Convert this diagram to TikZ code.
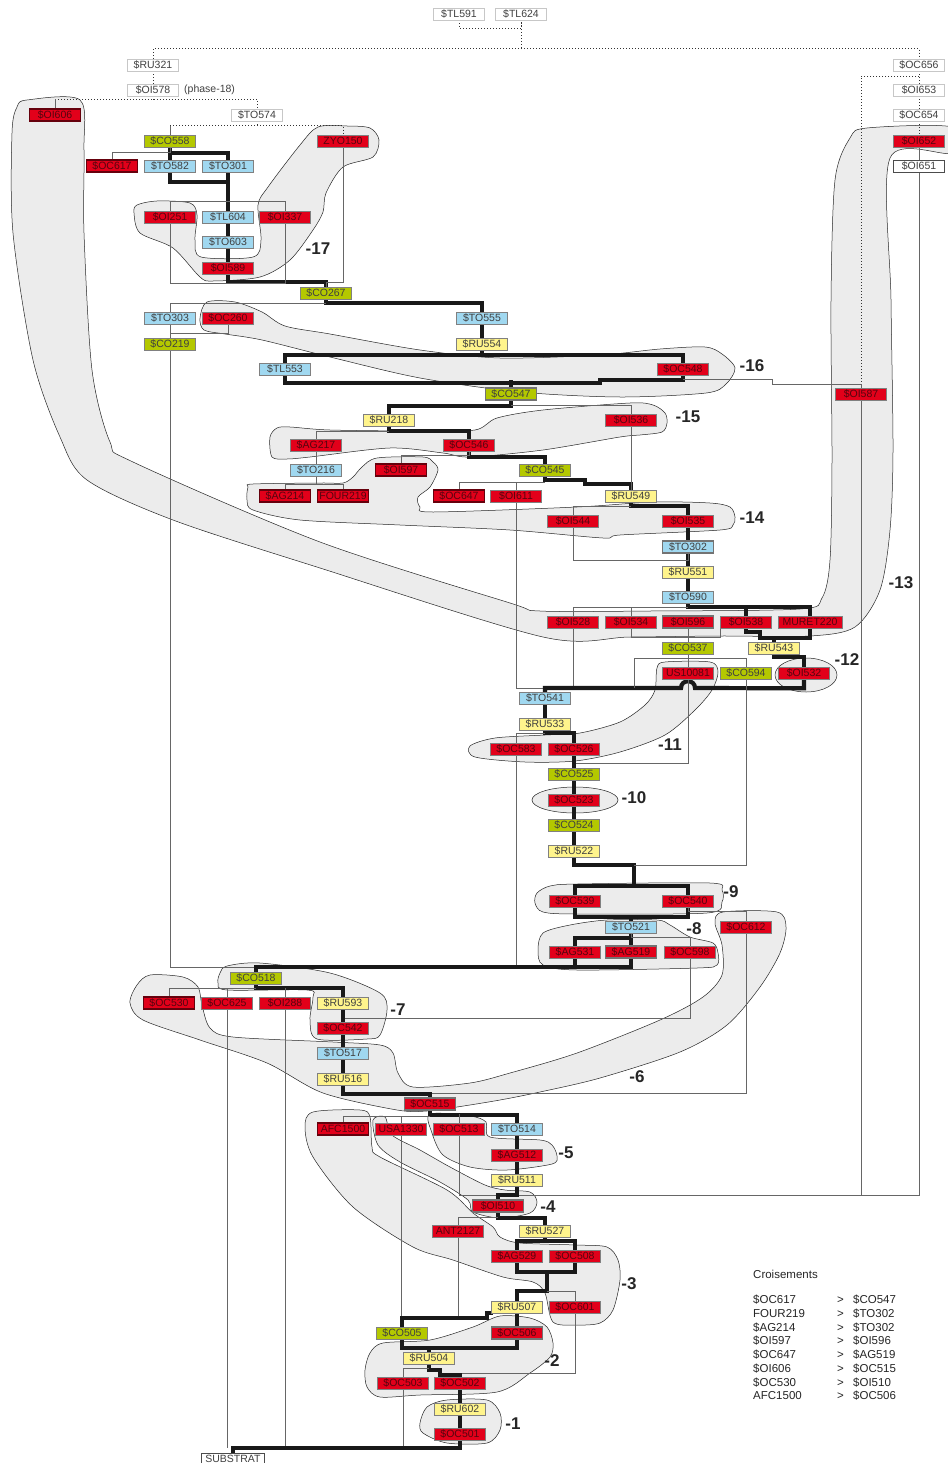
\documentclass[tikz,border=0pt]{standalone}
\usepackage{fontspec}
\setmainfont{Liberation Sans}
\usetikzlibrary{positioning}

\definecolor{usred}{RGB}{226,0,26}
\definecolor{ustxt}{RGB}{85,5,15}
\definecolor{usblue}{RGB}{160,216,240}
\definecolor{usgreen}{RGB}{180,200,0}
\definecolor{usyellow}{RGB}{255,244,140}
\definecolor{hullgrey}{RGB}{236,236,236}

\pgfdeclarelayer{hulls}
\pgfdeclarelayer{links}
\pgfsetlayers{hulls,links,main}

% phase outlines
\newcommand\hullxvii{plot[smooth cycle,tension=0.5] coordinates {(134,213) (137,205) (157,201) (190,203) (197,215) (195,240) (201,257) (253,257) (261,240) (258,205) (268,187) (300,145) (318,127) (347,126) (370,128) (379,140) (373,157) (343,167) (326,193) (323,212) (313,230) (290,260) (260,277) (213,281) (200,277) (173,248) (140,233)}}
\newcommand\hullxvi{plot[smooth cycle,tension=0.5] coordinates {(200,318) (207,302) (235,302) (262,312) (285,326) (330,334) (420,350) (500,358) (600,355) (660,349) (705,347) (722,354) (735,368) (726,384) (706,393) (620,397) (520,392) (420,378) (330,357) (262,340) (225,334) (204,330)}}
\newcommand\hullxv{plot[smooth cycle,tension=0.5] coordinates {(270,437) (277,428) (290,427) (330,430) (420,431) (475,430) (497,418) (543,410) (630,403) (653,405) (665,413) (667,423) (662,432) (640,435) (620,437) (543,450) (470,457) (443,453) (390,448) (310,457) (287,459) (272,457)}}
\newcommand\hullxiv{plot[smooth cycle,tension=0.5] coordinates {(248,487) (253,484) (320,483) (343,483) (353,477) (362,467) (377,458) (423,457) (433,462) (438,470) (430,487) (418,497) (420,507) (433,512) (577,507) (653,502) (710,503) (730,507) (735,517) (733,525) (720,530) (620,535) (603,538) (510,530) (400,525) (300,520) (253,510) (247,500)}}
\newcommand\hullxiii{plot[smooth cycle,tension=0.5] coordinates {(27,100) (80,100) (84,150) (84,233) (92,370) (110,442) (133,462) (320,542) (510,603) (540,611) (650,611) (800,609) (822,598) (830,560) (832,460) (831,300) (835,180) (850,138) (867,128) (952,127) (952,153) (890,158) (891,300) (893,450) (890,530) (880,590) (855,627) (810,636) (720,636) (630,637) (543,637) (320,568) (173,520) (87,480) (60,437) (33,360) (13,233) (12,133) (17,107)}}
\newcommand\hullxii{(806,675) ellipse [x radius=31, y radius=17]}
\newcommand\hullxi{plot[smooth cycle,tension=0.5] coordinates {(657,668) (665,662) (710,662) (718,672) (712,690) (695,710) (665,735) (620,752) (575,761) (525,762) (475,757) (470,746) (495,738) (545,735) (580,733) (620,722) (645,705) (655,690)}}
\newcommand\hullx{(575,800) ellipse [x radius=43, y radius=13]}
\newcommand\hullix{plot[smooth cycle,tension=0.5] coordinates {(537,893) (550,886) (577,884) (710,883) (722,890) (722,902) (707,913) (577,914) (543,912) (535,903)}}
\newcommand\hullviii{plot[smooth cycle,tension=0.5] coordinates {(538,950) (543,933) (570,925) (607,920) (657,920) (670,925) (690,937) (713,943) (718,953) (717,965) (697,968) (577,970) (543,965)}}
\newcommand\hullvii{plot[smooth cycle,tension=0.5] coordinates {(220,973) (227,966) (260,963) (330,973) (380,993) (387,1010) (380,1035) (367,1039) (317,1039) (310,1020) (313,997) (307,990) (227,990) (218,983)}}
\newcommand\hullvi{plot[smooth cycle,tension=0.5] coordinates {(130,1003) (137,985) (150,975) (183,977) (198,987) (202,1005) (210,1028) (233,1037) (333,1042) (380,1045) (393,1053) (398,1073) (413,1087) (470,1083) (510,1073) (577,1053) (660,1020) (703,997) (722,975) (722,945) (715,923) (723,912) (777,912) (786,927) (780,953) (760,987) (727,1025) (680,1052) (600,1078) (540,1092) (500,1100) (457,1107) (427,1111) (397,1110) (323,1093) (267,1063) (200,1040) (143,1020)}}
\newcommand\hullv{plot[smooth cycle,tension=0.5] coordinates {(430,1114) (470,1116) (486,1122) (490,1137) (540,1140) (552,1145) (557,1156) (552,1164) (507,1170) (470,1167) (443,1155) (432,1133)}}
\newcommand\hulliv{plot[smooth cycle,tension=0.5] coordinates {(373,1120) (385,1117) (392,1135) (420,1150) (450,1167) (485,1185) (505,1190) (530,1192) (537,1202) (530,1213) (500,1218) (473,1212) (468,1200) (440,1182) (400,1162) (378,1145)}}
\newcommand\hulliii{plot[smooth cycle,tension=0.5] coordinates {(305,1127) (313,1112) (360,1110) (370,1117) (372,1147) (380,1157) (447,1190) (473,1213) (493,1227) (500,1237) (520,1243) (577,1245) (607,1247) (618,1260) (620,1280) (613,1310) (600,1323) (577,1325) (553,1322) (545,1293) (533,1282) (503,1277) (453,1260) (413,1247) (353,1207) (313,1157)}}
\newcommand\hullii{plot[smooth cycle,tension=0.5] coordinates {(365,1370) (370,1353) (383,1343) (430,1340) (473,1327) (500,1316) (530,1318) (547,1327) (553,1343) (550,1357) (530,1373) (497,1392) (420,1395) (380,1397) (367,1387)}}
\newcommand\hulli{plot[smooth cycle,tension=0.5] coordinates {(420,1423) (427,1407) (447,1400) (487,1400) (500,1413) (500,1430) (487,1443) (447,1443) (423,1433)}}

\begin{document}
\begin{tikzpicture}[
  x=1pt, y=-1pt,
  box/.style={draw=black!50, line width=0.6pt, minimum width=51pt,
              minimum height=12pt, inner sep=0pt,
              font=\fontsize{10.5}{10.5}\selectfont},
  rbox/.style={box, fill=usred, text=ustxt},
  bbox/.style={box, fill=usblue, text=black!75},
  gbox/.style={box, fill=usgreen, text=black!75},
  ybox/.style={box, fill=usyellow, text=black!75},
  wbox/.style={box, fill=white, draw=black!22, text=black!75},
  xleft/.style={draw=black!55!usred, line width=1.5pt},
  xright/.style={draw=black!55, line width=1.5pt},
  phase/.style={font=\fontsize{17}{17}\selectfont\bfseries, text=black!85, inner sep=0pt},
  rel/.style={draw=black!60, line width=0.75pt},
  seq/.style={draw=black!90, line width=4.2pt, line cap=rect},
  dot/.style={draw=black!80, line width=0.9pt, dash pattern=on 0.9pt off 2.1pt},
  hull/.style={fill=hullgrey},
  rim/.style={draw=black!85, line width=0.5pt},
]
\useasboundingbox (0,0) rectangle (947,1463);

% top, unphased
\node[wbox] (tl591) at (459,14) {\$TL591};
\node[wbox] (tl624) at (521,14) {\$TL624};
\node[wbox] (ru321) at (153,65) {\$RU321};
\node[wbox] (oi578) at (153,90) {\$OI578};
\node[anchor=west, inner sep=0pt, text=black!75, font=\fontsize{10.5}{10.5}\selectfont] (ph18) at (184,90) {(phase-18)};
\node[wbox] (to574) at (257,115) {\$TO574};
\node[wbox] (oc656) at (919,65) {\$OC656};
\node[wbox] (oi653) at (919,90) {\$OI653};
\node[wbox] (oc654) at (919,115) {\$OC654};
\node[rbox] (oi652) at (919,141) {\$OI652};
\node[wbox, draw=black!70] (oi651) at (919,166) {\$OI651};

% phase 17
\node[rbox, xleft] (oi606) at (55,115) {\$OI606};
\node[gbox] (co558) at (170,141) {\$CO558};
\node[rbox] (zyo150) at (343,141) {ZYO150};
\node[rbox, xleft] (oc617) at (112,166) {\$OC617};
\node[bbox] (to582) at (170,166) {\$TO582};
\node[bbox] (to301) at (228,166) {\$TO301};
\node[rbox] (oi251) at (170,217) {\$OI251};
\node[bbox] (tl604) at (228,217) {\$TL604};
\node[rbox] (oi337) at (285,217) {\$OI337};
\node[bbox] (to603) at (228,242) {\$TO603};
\node[rbox] (oi589) at (228,268) {\$OI589};
\node[gbox] (co267) at (326,293) {\$CO267};

% phases 16 to 13
\node[bbox] (to303) at (170,318) {\$TO303};
\node[rbox] (oc260) at (228,318) {\$OC260};
\node[gbox] (co219) at (170,344) {\$CO219};
\node[bbox] (to555) at (482,318) {\$TO555};
\node[ybox] (ru554) at (482,344) {\$RU554};
\node[bbox] (tl553) at (285,369) {\$TL553};
\node[rbox] (oc548) at (683,369) {\$OC548};
\node[rbox] (oi587) at (861,394) {\$OI587};
\node[gbox, xright] (co547) at (511,394) {\$CO547};
\node[ybox] (ru218) at (389,420) {\$RU218};
\node[rbox] (oi536) at (631,420) {\$OI536};
\node[rbox] (ag217) at (316,445) {\$AG217};
\node[rbox] (oc546) at (469,445) {\$OC546};
\node[bbox] (to216) at (316,470) {\$TO216};
\node[rbox, xleft] (oi597) at (401,470) {\$OI597};
\node[gbox] (co545) at (545,470) {\$CO545};
\node[rbox, xleft] (ag214) at (285,496) {\$AG214};
\node[rbox, xleft] (four219) at (343,496) {FOUR219};
\node[rbox, xleft] (oc647) at (459,496) {\$OC647};
\node[rbox] (oi611) at (516,496) {\$OI611};
\node[ybox] (ru549) at (631,496) {\$RU549};
\node[rbox] (oi544) at (573,521) {\$OI544};
\node[rbox] (oi535) at (688,521) {\$OI535};
\node[bbox, xright] (to302) at (688,547) {\$TO302};
\node[ybox] (ru551) at (688,572) {\$RU551};
\node[bbox] (to590) at (688,597) {\$TO590};
\node[rbox] (oi528) at (573,622) {\$OI528};
\node[rbox] (oi534) at (631,622) {\$OI534};
\node[rbox, xright] (oi596) at (688,622) {\$OI596};
\node[rbox] (oi538) at (746,622) {\$OI538};
\node[rbox, minimum width=64pt] (muret220) at (810,622) {MURET220};

% phases 12 to 8
\node[gbox] (co537) at (688,648) {\$CO537};
\node[ybox] (ru543) at (774,648) {\$RU543};
\node[rbox] (us10081) at (688,673) {US10081};
\node[gbox] (co594) at (746,673) {\$CO594};
\node[rbox] (oi532) at (804,673) {\$OI532};
\node[bbox] (to541) at (545,698) {\$TO541};
\node[ybox] (ru533) at (545,724) {\$RU533};
\node[rbox] (oc583) at (516,749) {\$OC583};
\node[rbox] (oc526) at (574,749) {\$OC526};
\node[gbox] (co525) at (574,774) {\$CO525};
\node[rbox] (oc523) at (574,800) {\$OC523};
\node[gbox] (co524) at (574,825) {\$CO524};
\node[ybox] (ru522) at (574,851) {\$RU522};
\node[rbox] (oc539) at (575,901) {\$OC539};
\node[rbox] (oc540) at (688,901) {\$OC540};
\node[bbox] (to521) at (631,927) {\$TO521};
\node[rbox] (oc612) at (746,927) {\$OC612};
\node[rbox] (ag531) at (575,952) {\$AG531};
\node[rbox, xright] (ag519) at (631,952) {\$AG519};
\node[rbox] (oc598) at (690,952) {\$OC598};

% phases 7 to 1
\node[gbox] (co518) at (256,978) {\$CO518};
\node[rbox, xleft] (oc530) at (169,1003) {\$OC530};
\node[rbox] (oc625) at (227,1003) {\$OC625};
\node[rbox] (oi288) at (285,1003) {\$OI288};
\node[ybox] (ru593) at (343,1003) {\$RU593};
\node[rbox] (oc542) at (343,1028) {\$OC542};
\node[bbox] (to517) at (343,1053) {\$TO517};
\node[ybox] (ru516) at (343,1079) {\$RU516};
\node[rbox, xright] (oc515) at (430,1104) {\$OC515};
\node[rbox, xleft] (afc1500) at (343,1129) {AFC1500};
\node[rbox] (usa1330) at (401,1129) {USA1330};
\node[rbox] (oc513) at (459,1129) {\$OC513};
\node[bbox] (to514) at (517,1129) {\$TO514};
\node[rbox] (ag512) at (517,1155) {\$AG512};
\node[ybox] (ru511) at (517,1180) {\$RU511};
\node[rbox, xright] (oi510) at (498,1206) {\$OI510};
\node[rbox] (ant2127) at (458,1231) {ANT2127};
\node[ybox] (ru527) at (545,1231) {\$RU527};
\node[rbox] (ag529) at (517,1256) {\$AG529};
\node[rbox] (oc508) at (575,1256) {\$OC508};
\node[ybox] (ru507) at (517,1307) {\$RU507};
\node[rbox] (oc601) at (575,1307) {\$OC601};
\node[gbox] (co505) at (402,1333) {\$CO505};
\node[rbox, xright] (oc506) at (517,1333) {\$OC506};
\node[ybox] (ru504) at (429,1358) {\$RU504};
\node[rbox] (oc503) at (403,1383) {\$OC503};
\node[rbox] (oc502) at (460,1383) {\$OC502};
\node[ybox] (ru602) at (460,1409) {\$RU602};
\node[rbox] (oc501) at (460,1434) {\$OC501};
\node[wbox, draw=black!70, minimum width=63pt] (substrat) at (233,1459) {SUBSTRAT};

% phase numbers
\node[phase] (p17) at (318,249) {-17};
\node[phase] (p16) at (752,366) {-16};
\node[phase] (p15) at (688,417) {-15};
\node[phase] (p14) at (752,518) {-14};
\node[phase] (p13) at (901,583) {-13};
\node[phase] (p12) at (847,660) {-12};
\node[phase] (p11) at (670,745) {-11};
\node[phase] (p10) at (634,798) {-10};
\node[phase] (p9) at (731,892) {-9};
\node[phase] (p8) at (694,929) {-8};
\node[phase] (p7) at (398,1010) {-7};
\node[phase] (p6) at (637,1077) {-6};
\node[phase] (p5) at (566,1153) {-5};
\node[phase] (p4) at (548,1207) {-4};
\node[phase] (p3) at (629,1284) {-3};
\node[phase] (p2) at (552,1361) {-2};
\node[phase] (p1) at (513,1424) {-1};

% crossings
\node[anchor=west, inner sep=0pt, text=black!85, font=\fontsize{11.5}{13.7}\selectfont] (crois) at (753,1274) {Croisements};
\node[anchor=north west, inner sep=0pt, text=black!85, font=\fontsize{11.5}{13.7}\selectfont] (legend) at (753,1294)
  {\begin{tabular}{@{}p{84pt}@{}p{16pt}@{}l@{}}
   \$OC617 & > & \$CO547\\
   FOUR219 & > & \$TO302\\
   \$AG214 & > & \$TO302\\
   \$OI597 & > & \$OI596\\
   \$OC647 & > & \$AG519\\
   \$OI606 & > & \$OC515\\
   \$OC530 & > & \$OI510\\
   AFC1500 & > & \$OC506
   \end{tabular}};

\begin{pgfonlayer}{hulls}
\fill[white] (0,0) rectangle (947,1463);
\fill[hull] \hullxvii; \fill[hull] \hullxvi; \fill[hull] \hullxv;
\fill[hull] \hullxiv; \fill[hull] \hullxiii; \fill[hull] \hullxii;
\fill[hull] \hullxi; \fill[hull] \hullx; \fill[hull] \hullix;
\fill[hull] \hullviii; \fill[hull] \hullvii; \fill[hull] \hullvi;
\fill[hull] \hullv; \fill[hull] \hulliv; \fill[hull] \hulliii;
\fill[hull] \hullii; \fill[hull] \hulli;
\draw[rim] \hullxvii; \draw[rim] \hullxvi; \draw[rim] \hullxv;
\draw[rim] \hullxiv; \draw[rim] \hullxiii; \draw[rim] \hullxii;
\draw[rim] \hullxi; \draw[rim] \hullx; \draw[rim] \hullix;
\draw[rim] \hullviii; \draw[rim] \hullvii; \draw[rim] \hullvi;
\draw[rim] \hullv; \draw[rim] \hulliv; \draw[rim] \hulliii;
\draw[rim] \hullii; \draw[rim] \hulli;
\end{pgfonlayer}

\begin{pgfonlayer}{links}
% dotted, unphased
\draw[dot] (tl591.south) -- ++(0,8) -| (tl624.south);
\draw[dot] (tl624.south) -- ++(0,28);
\draw[dot] (ru321.north) -- ++(0,-10) -| (oc656.north);
\draw[dot] (ru321.south) -- (oi578.north);
\draw[dot] (oi578.south) -- ++(0,4);
\draw[dot] (oi606.north) ++(0,-9) -| (to574.north);
\draw[rel] (oi606.north) -- ++(0,-9);
\draw[dot] (to574.south) -- ++(0,4);
\draw[dot] (co558.north) ++(0,-9) -| (zyo150.north);
\draw[rel] (co558.north) -- ++(0,-9);
\draw[dot] (oc656.south) -- (oi653.north);
\draw[dot] (oi653.south) -- (oc654.north);
\draw[dot] (oc654.south) -- (oi652.north);
\draw[dot] (oc656.south) ++(0,5) -| (oi587.north);
\draw[rel] (oi652.south) -- (oi651.north);

% phase 17
\draw[seq] (co558.south) -- (to582.north);
\draw[seq] (co558.south) ++(0,6) -| (to301.north);
\draw[seq] (to582.south) -- ++(0,10) -| (to301.south);
\draw[seq] (to301.south) -- (tl604.north);
\draw[seq] (tl604.south) -- (to603.north);
\draw[seq] (to603.south) -- (oi589.north);
\draw[seq] (oi589.south) -- ++(0,8) -| (co267.north);
\draw[rel] (oc617.north) -- ++(0,-7) -| (co558.south);
\draw[rel] (oi251.north) -- ++(0,-9) -| (oi337.north);
\draw[rel] (oi251.south) -- ++(0,60) -| (oi337.south);
\draw[rel] (zyo150.south) -- ++(0,135) -| (co267.north);

% phases 16 to 13
\draw[seq] (co267.south) -- ++(0,4) -| (to555.north);
\draw[rel] (co267.south) ++(0,4) -| (to303.north);
\draw[rel] (to303.south) -- (co219.north);
\draw[rel] (oc260.south) -- ++(0,9) -| (co219.north);
\draw[rel] (co219.south) -- ++(0,617) -| (co518.north);
\draw[seq] (to555.south) -- (ru554.north);
\draw[seq] (ru554.south) -- ++(0,5) coordinate (j355);
\draw[seq] (tl553.north) |- (j355) -| (oc548.north);
\draw[seq] (tl553.south) -- ++(0,8) -- ++(315,0) -- ++(0,-3) -| (oc548.south);
\draw[rel] (oc548.south) ++(0,4) -- ++(89,0) -- ++(0,5) -| (oi587.north);
\draw[rel] (oi587.south) -- ++(0,795);
\draw[seq] (co547.north) -- ++(0,-5);
\draw[seq] (co547.south) -- ++(0,5) -| (ru218.north);
\draw[rel] (co547.south) ++(0,5) -| (oi536.north);
\draw[seq] (ru218.south) -- ++(0,5) -| (oc546.north);
\draw[rel] (ru218.south) ++(0,5) -| (ag217.north);
\draw[rel] (ag217.south) -- (to216.north);
\draw[rel] (to216.south) -- ++(0,8) -| (ag214.north);
\draw[rel] (to216.south) ++(0,8) -| (four219.north);
\draw[seq] (oc546.south) -- ++(0,6) -| (co545.north);
\draw[rel] (oi597.north) -- ++(0,-8) -| (oc546.south);
\draw[seq] (co545.south) -- ++(0,4) -- ++(40,0) -- ++(0,4) -| (ru549.north);
\draw[rel] (co545.south) ++(0,6) -| (oc647.north);
\draw[rel] (oi611.north) -- ++(0,-8);
\draw[rel] (oi611.south) -- ++(0,186) -| (to541.north);
\draw[rel] (oi536.south) -- (ru549.north);
\draw[seq] (ru549.south) -- ++(0,4) -| (oi535.north);
\draw[rel] (ru549.south) ++(0,4) -| (oi544.north);
\draw[seq] (oi535.south) -- (to302.north);
\draw[seq] (to302.south) -- (ru551.north);
\draw[seq] (ru551.south) -- (to590.north);
\draw[rel] (oi544.south) -- ++(0,33) -| (to302.south);
\draw[seq] (to590.south) -- ++(0,4) -| (muret220.north);
\draw[seq] (to590.south) ++(0,4) -| (oi538.north);
\draw[rel] (to590.south) ++(0,4) -| (oi528.north);
\draw[rel] (oi534.north) -- ++(0,-9);
\draw[rel] (oi534.south) -- ++(0,9) -| (oi538.south west);
\draw[rel] (oi596.south) -- (co537.north);
\draw[rel] (oi528.south) -- ++(0,60);
\draw[seq] (oi538.south) -- ++(0,4) -- ++(14,0) -- ++(0,6) -| (muret220.south);
\draw[seq] (ru543.north) -- ++(0,-4);

% phases 12 to 8
\draw[seq] (ru543.south) -- ++(0,3) -| (oi532.north);
\draw[seq] (oi532.south) -- ++(0,9) -- (695,688)
      .. controls (695,679) and (681,679) .. (681,688) -| (to541.north);
\draw[rel] (co537.south) -- (us10081.north);
\draw[rel] (co537.south) -- ++(0,4) -| (co594.north);
\draw[rel] (co537.south) ++(0,4) -- ++(-54,0) -- ++(0,30);
\draw[rel] (us10081.south) -- ++(0,84) -| (co525.north);
\draw[seq] (to541.south) -- (ru533.north);
\draw[seq] (ru533.south) -- ++(0,3) -| (oc526.north);
\draw[rel] (ru533.south) ++(0,3) -| (oc583.north);
\draw[rel] (oc583.south) -- ++(0,212);
\draw[seq] (oc526.south) -- (co525.north);
\draw[seq] (co525.south) -- (oc523.north);
\draw[seq] (oc523.south) -- (co524.north);
\draw[seq] (co524.south) -- (ru522.north);
\draw[seq] (ru522.south) -- ++(0,8) -- ++(60,0) coordinate (j634) -- ++(0,21) coordinate (j886);
\draw[rel] (co594.south) |- (j634);
\draw[seq] (oc539.north) |- (j886) -| (oc540.north);
\draw[seq] (oc539.south) -- ++(0,10) -| (oc540.south);
\draw[seq] (to521.north) -- ++(0,-4);
\draw[seq] (to521.south) -- ++(0,5) -| (ag531.north);
\draw[seq] (to521.south) -- (ag519.north);
\draw[seq] (ag531.south) -- ++(0,9);
\draw[seq] (co518.north) -- ++(0,-5) -| (ag519.south);
\draw[rel] (oc598.north) -- ++(0,-8) -| (to521.south);
\draw[rel] (oc598.south) -- ++(0,60) -| (oc542.north);
\draw[rel] (oc612.north) -- ++(0,-9) -| (oc540.south);
\draw[rel] (oc612.south) -- ++(0,160) -| (oc515.north);

% phases 7 to 1
\draw[seq] (co518.south) -- ++(0,4) -| (ru593.north);
\draw[rel] (co518.south) ++(0,4) -| (oc530.north);
\draw[rel] (oc625.north) -- ++(0,-9);
\draw[rel] (oi288.north) -- ++(0,-9);
\draw[rel] (oc625.south) -- ++(0,439);
\draw[rel] (oi288.south) -- ++(0,439);
\draw[seq] (ru593.south) -- (oc542.north);
\draw[seq] (oc542.south) -- (to517.north);
\draw[seq] (to517.south) -- (ru516.north);
\draw[seq] (ru516.south) -- ++(0,9) -| (oc515.north);
\draw[seq] (oc515.south) -- ++(0,4) -| (to514.north);
\draw[rel] (oc515.south) ++(0,6) -| (afc1500.north);
\draw[rel] (usa1330.north) -- ++(0,-7);
\draw[rel] (oc513.north) -- ++(0,-9);
\draw[rel] (usa1330.south) -- ++(0,183);
\draw[rel] (oc513.south) -- ++(0,60) -| (oi651.south);
\draw[seq] (to514.south) -- (ag512.north);
\draw[seq] (ag512.south) -- (ru511.north);
\draw[seq] (ru511.south) -- ++(0,9) -| (oi510.north);
\draw[seq] (oi510.south) -- ++(0,5) -| (ru527.north);
\draw[rel] (oi510.south) ++(0,5) -| (ant2127.north);
\draw[rel] (ant2127.south) -- ++(0,81);
\draw[seq] (ru527.south) -- ++(0,4) -| (ag529.north);
\draw[seq] (ru527.south) ++(0,4) -| (oc508.north);
\draw[seq] (ag529.south) -- ++(0,10) -| (oc508.south);
\draw[seq] (ag529.south) ++(0,10) -- ++(30,0) -- ++(0,19) -| (ru507.north);
\draw[rel] (ag529.south) ++(30,29) -| (oc601.north);
\draw[rel] (oc601.south) -- ++(0,60) -| (oc502.north);
\draw[seq] (ru507.south west) -- ++(-4,0) -- ++(0,5) -| (co505.north);
\draw[seq] (ru507.south) -- (oc506.north);
\draw[seq] (oc506.south) -- ++(0,8) -| (co505.south);
\draw[seq] (oc506.south) ++(-88,8) -- (ru504.north);
\draw[seq] (ru504.south) -- ++(0,6) -- ++(11,0) -- ++(0,5) -| (oc502.north);
\draw[rel] (ru504.south) ++(0,4) -| (oc503.north);
\draw[rel] (oc503.south) -- ++(0,59);
\draw[seq] (oc502.south) -- (ru602.north);
\draw[seq] (ru602.south) -- (oc501.north);
\draw[seq] (oc501.south) -- ++(0,8) -| (substrat.north);
\end{pgfonlayer}

\end{tikzpicture}
\end{document}
